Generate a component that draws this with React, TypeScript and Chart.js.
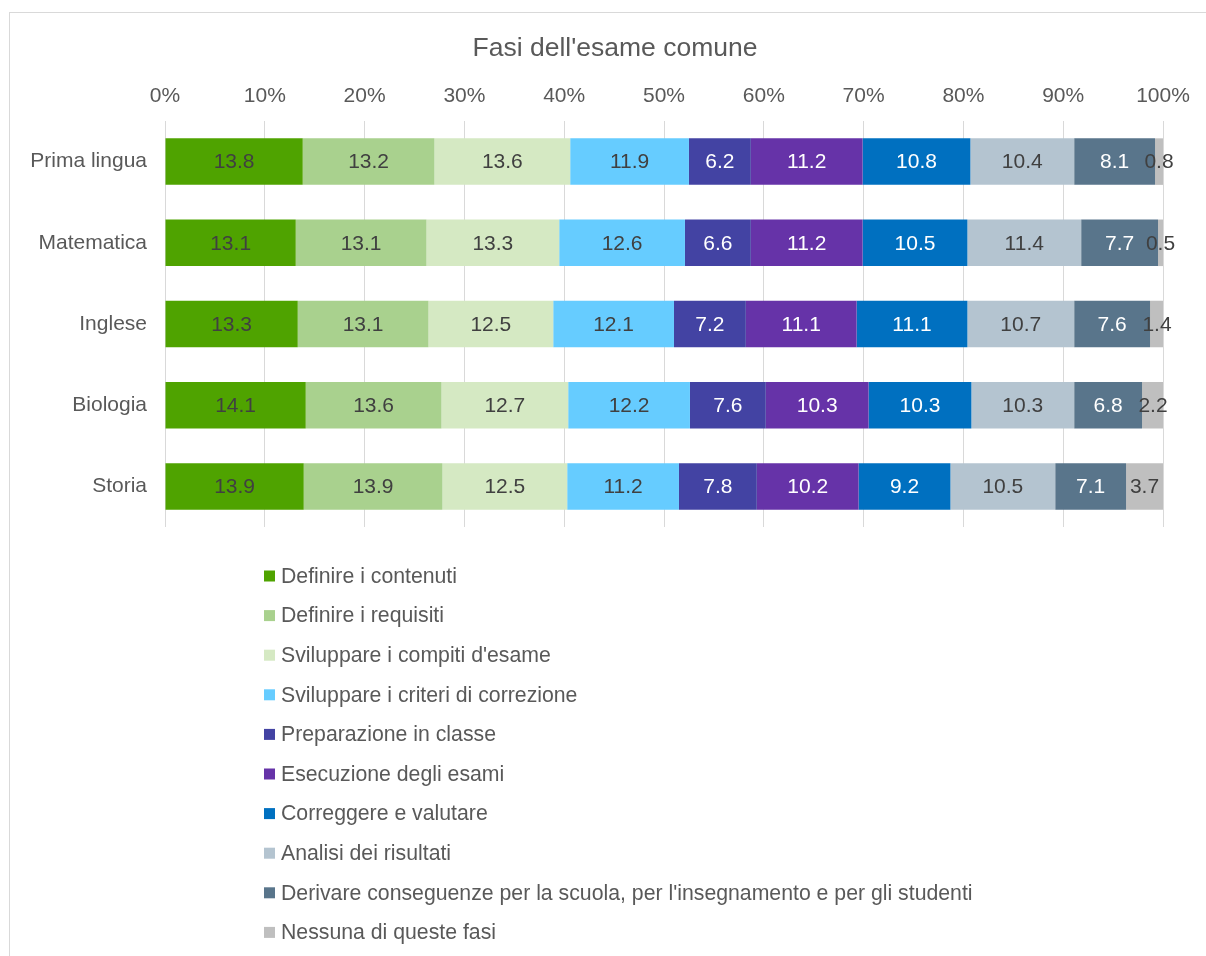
import React, { useEffect, useRef } from "react";
import { Chart, registerables } from "chart.js";

Chart.register(...registerables);

const chartTitle = "Fasi dell'esame comune";
const categories = ["Prima lingua", "Matematica", "Inglese", "Biologia", "Storia"];
const seriesNames = [
  "Definire i contenuti",
  "Definire i requisiti",
  "Sviluppare i compiti d'esame",
  "Sviluppare i criteri di correzione",
  "Preparazione in classe",
  "Esecuzione degli esami",
  "Correggere e valutare",
  "Analisi dei risultati",
  "Derivare conseguenze per la scuola, per l'insegnamento e per gli studenti",
  "Nessuna di queste fasi",
];
const definireContenuti = [13.8, 13.1, 13.3, 14.1, 13.9];
const definireRequisiti = [13.2, 13.1, 13.1, 13.6, 13.9];
const sviluppareCompiti = [13.6, 13.3, 12.5, 12.7, 12.5];
const sviluppareCriteri = [11.9, 12.6, 12.1, 12.2, 11.2];
const preparazione = [6.2, 6.6, 7.2, 7.6, 7.8];
const esecuzione = [11.2, 11.2, 11.1, 10.3, 10.2];
const correggere = [10.8, 10.5, 11.1, 10.3, 9.2];
const analisi = [10.4, 11.4, 10.7, 10.3, 10.5];
const derivare = [8.1, 7.7, 7.6, 6.8, 7.1];
const nessuna = [0.8, 0.5, 1.4, 2.2, 3.7];
const seriesValues = [
  definireContenuti, definireRequisiti, sviluppareCompiti, sviluppareCriteri,
  preparazione, esecuzione, correggere, analisi, derivare, nessuna,
];
const colors = [
  "#4fa300", "#a9d18e", "#d5e9c3", "#66ccff", "#4343a3",
  "#6633a8", "#0070c0", "#b4c4d0", "#59758b", "#bfbfbf",
];
const labelColors = [
  "#404040", "#404040", "#404040", "#404040", "#ffffff",
  "#ffffff", "#ffffff", "#404040", "#ffffff", "#404040",
];
const xTicks = [0, 10, 20, 30, 40, 50, 60, 70, 80, 90, 100];

const FONT = "'Liberation Sans', Arial, sans-serif";
const TXT = "#595959";

const dataLabelPlugin = {
  id: "dataLabels",
  afterDatasetsDraw(chart: any) {
    const ctx = chart.ctx;
    ctx.save();
    ctx.font = `21px ${FONT}`;
    ctx.textAlign = "center";
    ctx.textBaseline = "middle";
    chart.data.datasets.forEach((ds: any, i: number) => {
      const meta = chart.getDatasetMeta(i);
      meta.data.forEach((el: any, j: number) => {
        const v = ds.data[j];
        const cx = (el.x + el.base) / 2;
        ctx.fillStyle = labelColors[i];
        ctx.fillText(v.toFixed(1), cx, el.y + 1);
      });
    });
    ctx.restore();
  },
};

const titlePlugin = {
  id: "customTitle",
  afterDraw(chart: any) {
    const ctx = chart.ctx;
    ctx.save();
    ctx.font = `26.5px ${FONT}`;
    ctx.textAlign = "center";
    ctx.textBaseline = "middle";
    ctx.fillStyle = TXT;
    ctx.fillText(chartTitle, 615, 49);
    ctx.restore();
  },
};

const legendPlugin = {
  id: "customLegend",
  afterDraw(chart: any) {
    const ctx = chart.ctx;
    ctx.save();
    ctx.font = `21.25px ${FONT}`;
    ctx.textAlign = "left";
    ctx.textBaseline = "middle";
    const startY = 576;
    const step = 39.6;
    chart.data.datasets.forEach((ds: any, i: number) => {
      const y = startY + i * step;
      ctx.fillStyle = ds.backgroundColor;
      ctx.fillRect(264, y - 5.5, 11, 11);
      ctx.fillStyle = TXT;
      ctx.fillText(ds.label, 281, y + 1);
    });
    ctx.restore();
  },
};

export default function App() {
  const ref = useRef<HTMLCanvasElement>(null);
  useEffect(() => {
    if (!ref.current) return;
    const chart = new Chart(ref.current, {
      type: "bar",
      data: {
        labels: categories,
        datasets: seriesNames.map((name, i) => ({
          label: name,
          data: seriesValues[i],
          backgroundColor: colors[i],
          borderWidth: 0,
          categoryPercentage: 1,
          barPercentage: 0.573,
        })),
      },
      plugins: [dataLabelPlugin, legendPlugin, titlePlugin],
      options: {
        indexAxis: "y",
        animation: false,
        responsive: true,
        maintainAspectRatio: false,
        layout: { padding: { top: 69.5, left: 0, right: 43, bottom: 429 } },
        plugins: {
          legend: { display: false },
          tooltip: { enabled: false },
          title: { display: false },
        },
        scales: {
          x: {
            type: "linear",
            position: "top",
            stacked: true,
            min: 0,
            max: 100,
            afterBuildTicks: (s: any) => {
              s.ticks = xTicks.map((v) => ({ value: v }));
            },
            afterFit: (s: any) => {
              s.height = 51.5;
            },
            ticks: {
              color: TXT,
              font: { family: FONT, size: 21 },
              padding: 12,
              callback: (v: any) => v + "%",
              maxRotation: 0,
            },
            grid: { color: "#d9d9d9", lineWidth: 1, drawTicks: false },
            border: { display: false },
          },
          y: {
            stacked: true,
            afterFit: (s: any) => {
              s.width = 165;
            },
            ticks: {
              color: TXT,
              font: { family: FONT, size: 21 },
              padding: 18,
            },
            grid: { display: false, drawTicks: false },
            border: { display: false },
          },
        },
      },
    });
    return () => chart.destroy();
  }, []);
  return (
    <div style={{ position: "fixed", left: 0, top: 0, width: 1206, height: 956, background: "#fff" }}>
      <div
        style={{
          position: "absolute",
          left: 9,
          top: 12,
          width: 1197,
          height: 944,
          borderTop: "1px solid #d9d9d9",
          borderLeft: "1px solid #d9d9d9",
          boxSizing: "border-box",
        }}
      />
      <div style={{ position: "absolute", left: 0, top: 0, width: 1206, height: 956 }}>
        <canvas ref={ref} />
      </div>
    </div>
  );
}
